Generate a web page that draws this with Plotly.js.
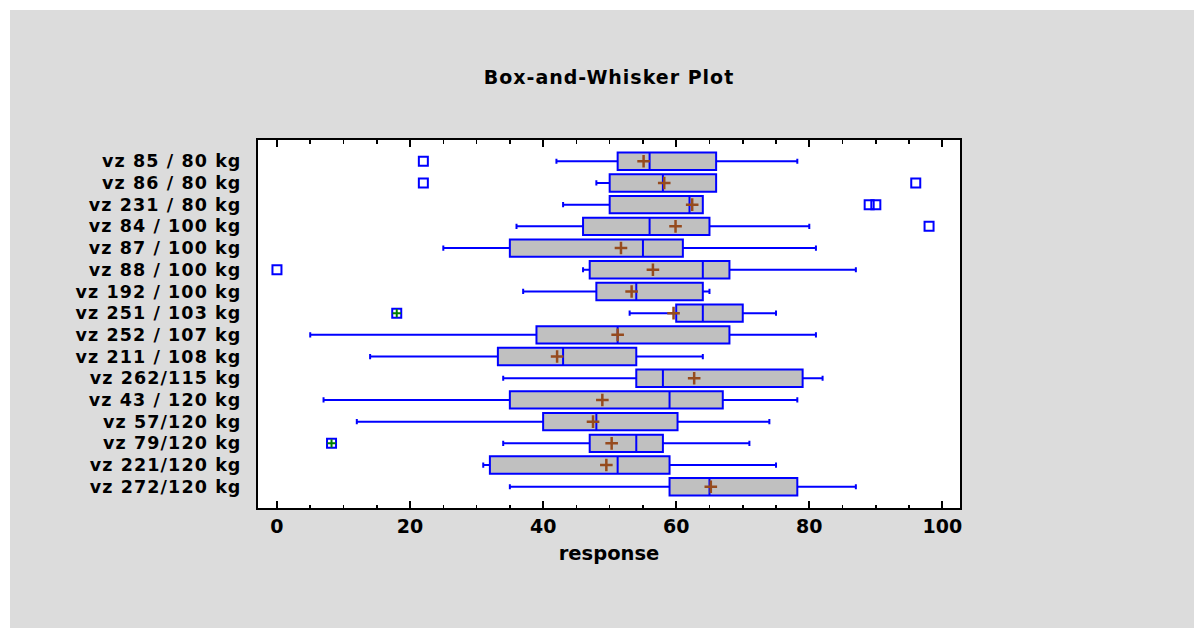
<!DOCTYPE html>
<html>
<head>
<meta charset="utf-8">
<script src="https://cdn.plot.ly/plotly-3.0.1.min.js"></script>
<style>
  html, body { margin: 0; padding: 0; background: #ffffff; }
  #bg { position: absolute; left: 10px; top: 10px; width: 1184px; height: 618px; background: #dcdcdc; }
  #chart { position: absolute; left: 0; top: 0; width: 1194px; height: 628px; }
  #chart .ytick text { letter-spacing: 1.1px; }
  #chart .gtitle { letter-spacing: 1px; }
</style>
</head>
<body>
<div id="bg"></div>
<div id="chart"></div>
<script>
// ---- data ----
const categories = [
  'vz 85 / 80 kg', 'vz 86 / 80 kg', 'vz 231 / 80 kg', 'vz 84 / 100 kg',
  'vz 87 / 100 kg', 'vz 88 / 100 kg', 'vz 192 / 100 kg', 'vz 251 / 103 kg',
  'vz 252 / 107 kg', 'vz 211 / 108 kg', 'vz 262/115 kg', 'vz 43 / 120 kg',
  'vz 57/120 kg', 'vz 79/120 kg', 'vz 221/120 kg', 'vz 272/120 kg'
];
const lowerWhisker = [42, 48, 43, 36, 25, 46, 37, 53, 5, 14, 34, 7, 12, 34, 31, 35];
const q1Values     = [51.2, 50, 50, 46, 35, 47, 48, 60, 39, 33.2, 54, 35, 40, 47, 32, 59];
const medianValues = [56, 58, 62, 56, 55, 64, 54, 64, 51.2, 43, 58, 59, 48, 54, 51.2, 65];
const q3Values     = [66, 66, 64, 65, 61, 68, 64, 70, 68, 54, 79, 67, 60.2, 58, 59, 78.2];
const upperWhisker = [78.2, 66, 64, 80, 81, 87, 65, 75, 81, 64, 82, 78.2, 74, 71, 75, 87];
const meanValues   = [55.1, 58.2, 62.4, 59.9, 51.7, 56.5, 53.3, 59.6, 51.2, 42.1, 62.7, 48.9, 47.5, 50.3, 49.5, 65.2];

// outside points
const outsideX   = [22, 22, 96, 89, 90, 98, 0];
const outsideCat = ['vz 85 / 80 kg', 'vz 86 / 80 kg', 'vz 86 / 80 kg', 'vz 231 / 80 kg', 'vz 231 / 80 kg', 'vz 84 / 100 kg', 'vz 88 / 100 kg'];
// far outside points
const farX   = [18, 8.2];
const farCat = ['vz 251 / 103 kg', 'vz 79/120 kg'];

const X_RANGE = [-2.85, 102.65];
const BLUE = '#0000ff';
const BROWN = '#964b1e';
const GREEN = '#008000';
const FONT = 'DejaVu Sans, Liberation Sans, Arial, sans-serif';

const traces = [
  {
    type: 'box', orientation: 'h', y: categories,
    q1: q1Values, median: medianValues, q3: q3Values,
    lowerfence: lowerWhisker, upperfence: upperWhisker,
    boxpoints: false, width: 0.8, whiskerwidth: 0.3,
    fillcolor: '#c0c0c0', line: { color: BLUE, width: 2 },
    hoverinfo: 'skip', showlegend: false
  },
  {
    type: 'scatter', mode: 'markers', x: meanValues, y: categories,
    marker: { symbol: 'cross-thin-open', size: 9, color: BROWN, line: { color: BROWN, width: 2.5 } },
    hoverinfo: 'skip', showlegend: false
  },
  {
    type: 'scatter', mode: 'markers', x: outsideX, y: outsideCat,
    marker: { symbol: 'square-open', size: 9, color: BLUE, line: { color: BLUE, width: 2 } },
    hoverinfo: 'skip', showlegend: false
  },
  {
    type: 'scatter', mode: 'markers', x: farX, y: farCat,
    marker: { symbol: 'square-open', size: 9, color: BLUE, line: { color: BLUE, width: 2 } },
    hoverinfo: 'skip', showlegend: false
  },
  {
    type: 'scatter', mode: 'markers', x: farX, y: farCat,
    marker: { symbol: 'cross-thin-open', size: 6, color: GREEN, line: { color: GREEN, width: 2 } },
    hoverinfo: 'skip', showlegend: false
  }
];

const layout = {
  width: 1194, height: 628,
  paper_bgcolor: 'rgba(0,0,0,0)', plot_bgcolor: '#ffffff',
  margin: { l: 258, r: 234, t: 140, b: 120, pad: 0 },
  font: { family: FONT, color: '#000000', weight: 'bold' },
  title: {
    text: 'Box-and-Whisker Plot',
    font: { family: FONT, size: 19, weight: 'bold', color: '#000' },
    x: 0.5, xref: 'paper', xanchor: 'center',
    y: 0.877, yref: 'container', yanchor: 'middle'
  },
  xaxis: {
    range: X_RANGE,
    tickmode: 'linear', tick0: 0, dtick: 20,
    ticks: 'inside', ticklen: 7, tickwidth: 2, tickcolor: '#000',
    minor: { dtick: 5, ticks: 'inside', ticklen: 3.5, tickwidth: 1.5, tickcolor: '#000' },
    showline: true, linecolor: '#000', linewidth: 2, mirror: 'ticks',
    showgrid: false, zeroline: false,
    tickfont: { family: FONT, size: 19, weight: 'bold', color: '#000' },
    title: { text: 'response', font: { family: FONT, size: 19.5, weight: 'bold', color: '#000' }, standoff: 11 }
  },
  yaxis: {
    type: 'category', categoryorder: 'array', categoryarray: categories,
    range: [15.98, -0.98], autorange: false,
    ticks: '',
    showline: true, linecolor: '#000', linewidth: 2, mirror: true,
    showgrid: false, zeroline: false,
    tickfont: { family: FONT, size: 17.5, weight: 'bold', color: '#000' },
    ticklabelstandoff: 11
  },
  showlegend: false
};

Plotly.newPlot('chart', traces, layout, { staticPlot: true, displayModeBar: false });
</script>
</body>
</html>
